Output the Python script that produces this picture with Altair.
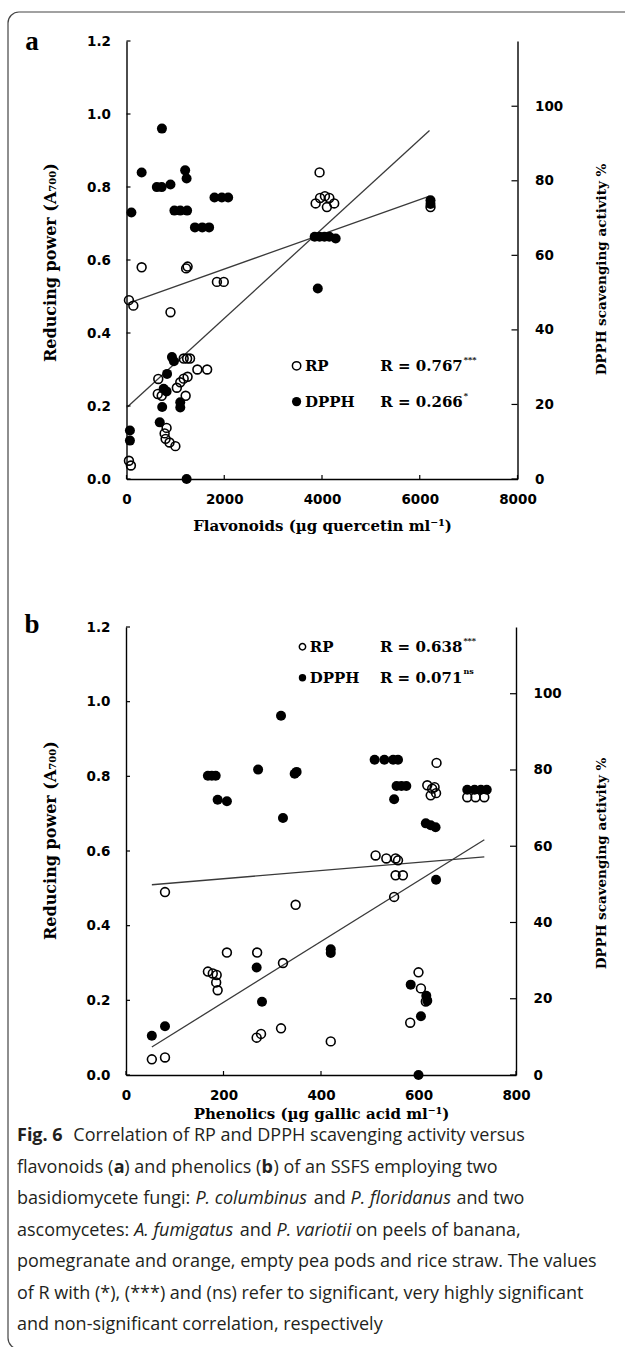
import altair as alt
import pandas as pd

W, H = 625, 1347

# ---------------- values ----------------
# Panel a : flavonoids (µg quercetin ml-1) vs RP (A700) and DPPH (%)
A_RP_X = [50, 140, 310, 50, 90, 900, 1220, 1250, 1850, 1990,
          650, 640, 720, 820, 780, 800, 880, 1000, 1030, 1100, 1170, 1250,
          1170, 1240, 1300, 1210, 1450, 1650,
          3950, 3870, 3960, 4060, 4150, 4250, 4100, 6220]
A_RP_Y = [0.49, 0.475, 0.58, 0.05, 0.037, 0.457, 0.577, 0.582, 0.54, 0.54,
          0.274, 0.233, 0.228, 0.14, 0.125, 0.11, 0.10, 0.09, 0.25, 0.265, 0.275, 0.28,
          0.33, 0.33, 0.33, 0.228, 0.30, 0.30,
          0.84, 0.755, 0.77, 0.775, 0.77, 0.755, 0.745, 0.745]
A_DPPH_X = [70, 70, 100, 310, 725, 620, 720, 900, 980, 1100, 1240, 1200, 1230, 1400, 1550, 1690, 1800, 1950, 2080,
            930, 970, 830, 760, 820, 730, 680, 1100, 1100, 1230,
            3850, 3950, 4050, 4150, 4280, 3914, 6220, 6220]
A_DPPH_Y = [13, 10.3, 71.5, 82.2, 94, 78.3, 78.3, 79, 72, 72, 72, 82.8, 80.6, 67.5, 67.5, 67.5, 75.5, 75.5, 75.5,
            32.7, 31.6, 28.2, 24.2, 23.5, 19.3, 15.2, 20.6, 19.2, 0,
            65, 65, 65, 65, 64.5, 51.1, 74.8, 73.8]
A_RP_LINE_X = [0, 6200]
A_RP_LINE_Y = [0.195, 0.955]
A_DPPH_LINE_X = [0, 6200]
A_DPPH_LINE_Y = [47.0, 75.9]

# Panel b : phenolics (µg gallic acid ml-1)
B_RP_X = [53, 80, 80, 168, 178, 186, 185, 188, 207, 269, 268, 277, 322, 318, 348, 420,
          512, 534, 553, 558, 553, 568, 550, 600, 605, 615, 583,
          637, 618, 628, 636, 625, 633, 700, 717, 735]
B_RP_Y = [0.042, 0.047, 0.49, 0.277, 0.272, 0.268, 0.248, 0.227, 0.328, 0.328, 0.10, 0.11, 0.30, 0.125, 0.456, 0.09,
          0.588, 0.58, 0.58, 0.575, 0.535, 0.535, 0.477, 0.275, 0.232, 0.197, 0.14,
          0.836, 0.776, 0.767, 0.755, 0.749, 0.771, 0.744, 0.744, 0.744]
B_DPPH_X = [53, 80, 168, 176, 184, 188, 207, 271, 318, 346, 350, 322, 268, 279,
            420, 420, 510, 530, 548, 558, 555, 565, 575, 550, 615, 625, 635, 636, 584, 616, 618, 605, 600,
            700, 715, 728, 740]
B_DPPH_Y = [10.3, 12.8, 78.5, 78.5, 78.5, 72.2, 71.8, 80.1, 94.2, 79, 79.5, 67.4, 28.2, 19.2,
            33, 32, 82.7, 82.7, 82.7, 82.7, 75.8, 75.8, 75.8, 72.3, 66, 65.5, 65, 51.2, 23.7, 20.8, 19.5, 15.4, 0,
            74.8, 74.8, 74.8, 74.8]
B_RP_LINE_X = [53, 735]
B_RP_LINE_Y = [0.075, 0.63]
B_DPPH_LINE_X = [53, 735]
B_DPPH_LINE_Y = [49.9, 57.2]

# tick labels
YL_TICKS = [0.0, 0.2, 0.4, 0.6, 0.8, 1.0, 1.2]
YR_TICKS = [0, 20, 40, 60, 80, 100]
XA_TICKS = [0, 2000, 4000, 6000, 8000]
XB_TICKS = [0, 200, 400, 600, 800]
YL_DOM = [0, 1.2]
YR_DOM = [0, 117.5]

SERIES = ["RP", "DPPH"]
A_R_TEXT = ["R = 0.767", "R = 0.266"]
A_R_SUP = ["***", "*"]
B_R_TEXT = ["R = 0.638", "R = 0.071"]
B_R_SUP = ["***", "ns"]

LEFT_TITLE = "Reducing power (A₇₀₀)"
RIGHT_TITLE = "DPPH scavenging activity %"

CAPTION = [
    [("Fig. 6", "b"), ("  Correlation of RP and DPPH scavenging activity versus", "r")],
    [("flavonoids (", "r"), ("a", "b"), (") and phenolics (", "r"), ("b", "b"), (") of an SSFS employing two", "r")],
    [("basidiomycete fungi: ", "r"), ("P. columbinus", "i"), (" and ", "r"), ("P. floridanus", "i"), (" and two", "r")],
    [("ascomycetes: ", "r"), ("A. fumigatus", "i"), (" and ", "r"), ("P. variotii", "i"), (" on peels of banana,", "r")],
    [("pomegranate and orange, empty pea pods and rice straw. The values", "r")],
    [("of R with (*), (***) and (ns) refer to significant, very highly significant", "r")],
    [("and non-significant correlation, respectively", "r")],
]

# ---------------- layout ----------------
PA = dict(xdom=[0, 8000], xr=[126.5, 517.5], yr=[479, 41], ticks=XA_TICKS,
          xtitle="Flavonoids (µg quercetin ml⁻¹)", xtitle_dy=46, ltitle_y=262, rtitle_y=269,
          letter="a", letter_y=42, leg_cx=3480, leg_tx=3650, r_end=6880, rows=[0.31, 0.212],
          leg_size=70, r_text=A_R_TEXT, r_sup=A_R_SUP)
PB = dict(xdom=[0, 800], xr=[126, 516], yr=[1075, 627], ticks=XB_TICKS,
          xtitle="Phenolics (µg gallic acid ml⁻¹)", xtitle_dy=38, ltitle_y=840, rtitle_y=863,
          letter="b", letter_y=625, leg_cx=362, leg_tx=377, r_end=690, rows=[1.147, 1.064],
          leg_size=40, r_text=B_R_TEXT, r_sup=B_R_SUP)

LINE_C = "#3a3a3a"
SERIF = "DejaVu Serif"
SANS = "DejaVu Sans"


def xs(P):
    return alt.Scale(domain=P["xdom"], range=P["xr"], nice=False, zero=False)


def yls(P):
    return alt.Scale(domain=YL_DOM, range=P["yr"], nice=False, zero=False)


def yrs(P):
    return alt.Scale(domain=YR_DOM, range=P["yr"], nice=False, zero=False)


AXBASE = dict(grid=False, ticks=False, tickSize=0, domainColor="black", domainWidth=1.4,
              labelOverlap=False, labelFlush=False, labelFont=SANS, labelFontWeight="bold",
              labelFontSize=13.5, labelColor="black", titleFont=SERIF, titleFontWeight="bold",
              titleColor="black", titleAlign="center", titleBaseline="middle")


def x_axis(P):
    return alt.Axis(orient="bottom", offset=P["yr"][0] - H, values=P["ticks"], format="d",
                    labelPadding=13, title=P["xtitle"], titleFontSize=15,
                    titleX=(P["xr"][0] + P["xr"][1]) / 2, titleY=P["xtitle_dy"], **AXBASE)


def yl_axis(P):
    return alt.Axis(orient="left", offset=-P["xr"][0], values=YL_TICKS, format=".1f",
                    labelPadding=16, title=LEFT_TITLE, titleFontSize=16, titleAngle=270,
                    titleX=50 - P["xr"][0], titleY=P["ltitle_y"], **AXBASE)


def yr_axis(P):
    return alt.Axis(orient="right", offset=P["xr"][1] - W, values=YR_TICKS, format="d",
                    labelPadding=17, title=RIGHT_TITLE, titleFontSize=13.5, titleAngle=270,
                    titleX=601 - P["xr"][1], titleY=P["rtitle_y"], **AXBASE)


def panel(P, rp_x, rp_y, dp_x, dp_y, rpl, dpl):
    L = []
    X = lambda f="x", axis=None: alt.X(f + ":Q", scale=xs(P), axis=axis)
    YL = lambda f="y", axis=None: alt.Y(f + ":Q", scale=yls(P), axis=axis)
    YR = lambda f="y", axis=None: alt.Y(f + ":Q", scale=yrs(P), axis=axis)

    # regression lines
    L.append(alt.Chart(pd.DataFrame({"x": rpl[0], "y": rpl[1]}))
             .mark_line(color=LINE_C, strokeWidth=1.3).encode(x=X(), y=YL()))
    L.append(alt.Chart(pd.DataFrame({"x": dpl[0], "y": dpl[1]}))
             .mark_line(color=LINE_C, strokeWidth=1.3).encode(x=X(), y=YR()))
    # RP (open) points carry the x and left axes
    L.append(alt.Chart(pd.DataFrame({"x": rp_x, "y": rp_y}))
             .mark_point(shape="circle", size=78, filled=False, color="black", strokeWidth=1.6, opacity=1)
             .encode(x=X(axis=x_axis(P)), y=YL(axis=yl_axis(P))))
    # DPPH (filled) points carry the right axis
    L.append(alt.Chart(pd.DataFrame({"x": dp_x, "y": dp_y}))
             .mark_circle(size=100, color="black", opacity=1)
             .encode(x=X(), y=YR(axis=yr_axis(P))))

    # inward tick marks
    dpx = (P["xdom"][1] - P["xdom"][0]) / (P["xr"][1] - P["xr"][0])
    dpy = (YL_DOM[1] - YL_DOM[0]) / (P["yr"][0] - P["yr"][1])
    lt = pd.DataFrame({"x": [P["xdom"][0]] * len(YL_TICKS),
                       "x2": [P["xdom"][0] + 4 * dpx] * len(YL_TICKS), "y": YL_TICKS})
    L.append(alt.Chart(lt).mark_rule(color="black", strokeWidth=1.2)
             .encode(x=X(), x2="x2:Q", y=YL()))
    rt = pd.DataFrame({"x": [P["xdom"][1] - 6 * dpx] * len(YR_TICKS),
                       "x2": [P["xdom"][1]] * len(YR_TICKS), "y": YR_TICKS})
    L.append(alt.Chart(rt).mark_rule(color="black", strokeWidth=1.2)
             .encode(x=X(), x2="x2:Q", y=YR()))
    bt = pd.DataFrame({"x": P["ticks"], "y": [0] * len(P["ticks"]),
                       "y2": [4 * dpy] * len(P["ticks"])})
    L.append(alt.Chart(bt).mark_rule(color="black", strokeWidth=1.2)
             .encode(x=X(), y=YL(), y2="y2:Q"))

    # legend / correlation annotations
    L.append(alt.Chart(pd.DataFrame({"x": [P["leg_cx"]], "y": [P["rows"][0]]}))
             .mark_point(shape="circle", size=P["leg_size"], filled=False, color="black",
                         strokeWidth=1.5, opacity=1).encode(x=X(), y=YL()))
    L.append(alt.Chart(pd.DataFrame({"x": [P["leg_cx"]], "y": [P["rows"][1]]}))
             .mark_circle(size=P["leg_size"] + 15, color="black", opacity=1).encode(x=X(), y=YL()))
    L.append(alt.Chart(pd.DataFrame({"x": [P["leg_tx"]] * 2, "y": P["rows"], "t": SERIES}))
             .mark_text(align="left", baseline="middle", font=SERIF, fontWeight="bold",
                        fontSize=15, color="black").encode(x=X(), y=YL(), text="t:N"))
    L.append(alt.Chart(pd.DataFrame({"x": [P["r_end"]] * 2, "y": P["rows"], "t": P["r_text"]}))
             .mark_text(align="right", baseline="middle", font=SERIF, fontWeight="bold",
                        fontSize=15, color="black").encode(x=X(), y=YL(), text="t:N"))
    L.append(alt.Chart(pd.DataFrame({"x": [P["r_end"]] * 2, "y": P["rows"], "t": P["r_sup"]}))
             .mark_text(align="left", baseline="middle", font=SERIF, fontWeight="bold",
                        fontSize=8, dx=1, dy=-6, color="black").encode(x=X(), y=YL(), text="t:N"))
    return L


# ---------------- caption layout (approximate Open Sans advance widths, em) ----------------
CW = {" ": .26, "a": .556, "b": .613, "c": .48, "d": .613, "e": .561, "f": .339, "g": .548,
      "h": .614, "i": .253, "j": .253, "k": .525, "l": .253, "m": .93, "n": .614, "o": .604,
      "p": .613, "q": .613, "r": .408, "s": .477, "t": .353, "u": .614, "v": .501, "w": .778,
      "x": .524, "y": .502, "z": .477, "F": .539, "C": .632, "R": .635, "P": .604, "D": .728,
      "H": .738, "S": .547, "A": .633, "T": .557, "6": .572, ".": .266, "(": .296, ")": .296,
      ":": .266, ",": .25, "*": .551, "-": .322}
CAP_FONT = "Open Sans"
CAP_FS = 18
CAP_X0, CAP_Y0, CAP_DY = 17, 1136, 31.5


def seg_w(s, st):
    k = {"r": 1.0, "b": 1.07, "i": 0.96}[st]
    return sum(CW.get(c, .56) for c in s) * CAP_FS * k


cap_rows = {"r": [], "b": [], "i": []}
for i, line in enumerate(CAPTION):
    cur = CAP_X0
    for text, st in line:
        body = text.lstrip(" ")
        cur += seg_w(text[: len(text) - len(body)], st)
        cap_rows[st].append({"px": cur, "py": CAP_Y0 + i * CAP_DY, "t": body.rstrip(" ")})
        cur += seg_w(body, st)

layers = []
# rounded frame
layers.append(alt.Chart(pd.DataFrame({"k": [0]})).mark_rect(
    fillOpacity=0, stroke="#444", strokeWidth=1.2, cornerRadius=11)
    .encode(x=alt.value(8), x2=alt.value(680), y=alt.value(12), y2=alt.value(1349)))

layers += panel(PA, A_RP_X, A_RP_Y, A_DPPH_X, A_DPPH_Y,
                (A_RP_LINE_X, A_RP_LINE_Y), (A_DPPH_LINE_X, A_DPPH_LINE_Y))
layers += panel(PB, B_RP_X, B_RP_Y, B_DPPH_X, B_DPPH_Y,
                (B_RP_LINE_X, B_RP_LINE_Y), (B_DPPH_LINE_X, B_DPPH_LINE_Y))

# panel letters
layers.append(alt.Chart(pd.DataFrame({"px": [32, 32], "py": [PA["letter_y"], PB["letter_y"]],
                                      "t": [PA["letter"], PB["letter"]]}))
              .mark_text(align="center", baseline="middle", font="Liberation Serif",
                         fontWeight="bold", fontSize=27, color="black")
              .encode(x=alt.X("px:Q", scale=None, axis=None), y=alt.Y("py:Q", scale=None, axis=None),
                      text="t:N"))

# caption
STYLE = {"r": dict(fontWeight="normal", fontStyle="normal"),
         "b": dict(fontWeight="bold", fontStyle="normal"),
         "i": dict(fontWeight="normal", fontStyle="italic")}
for st, rows in cap_rows.items():
    layers.append(alt.Chart(pd.DataFrame(rows))
                  .mark_text(align="left", baseline="middle", font=CAP_FONT, fontSize=CAP_FS,
                             color="#231f20", **STYLE[st])
                  .encode(x=alt.X("px:Q", scale=None, axis=None),
                          y=alt.Y("py:Q", scale=None, axis=None), text="t:N"))

chart = (alt.layer(*layers)
         .resolve_scale(x="independent", y="independent")
         .properties(width=W, height=H, autosize=alt.AutoSizeParams(type="none"), padding=0)
         .configure_view(strokeWidth=0))

chart.save("out.html", embed_options={"renderer": "svg", "actions": False})
